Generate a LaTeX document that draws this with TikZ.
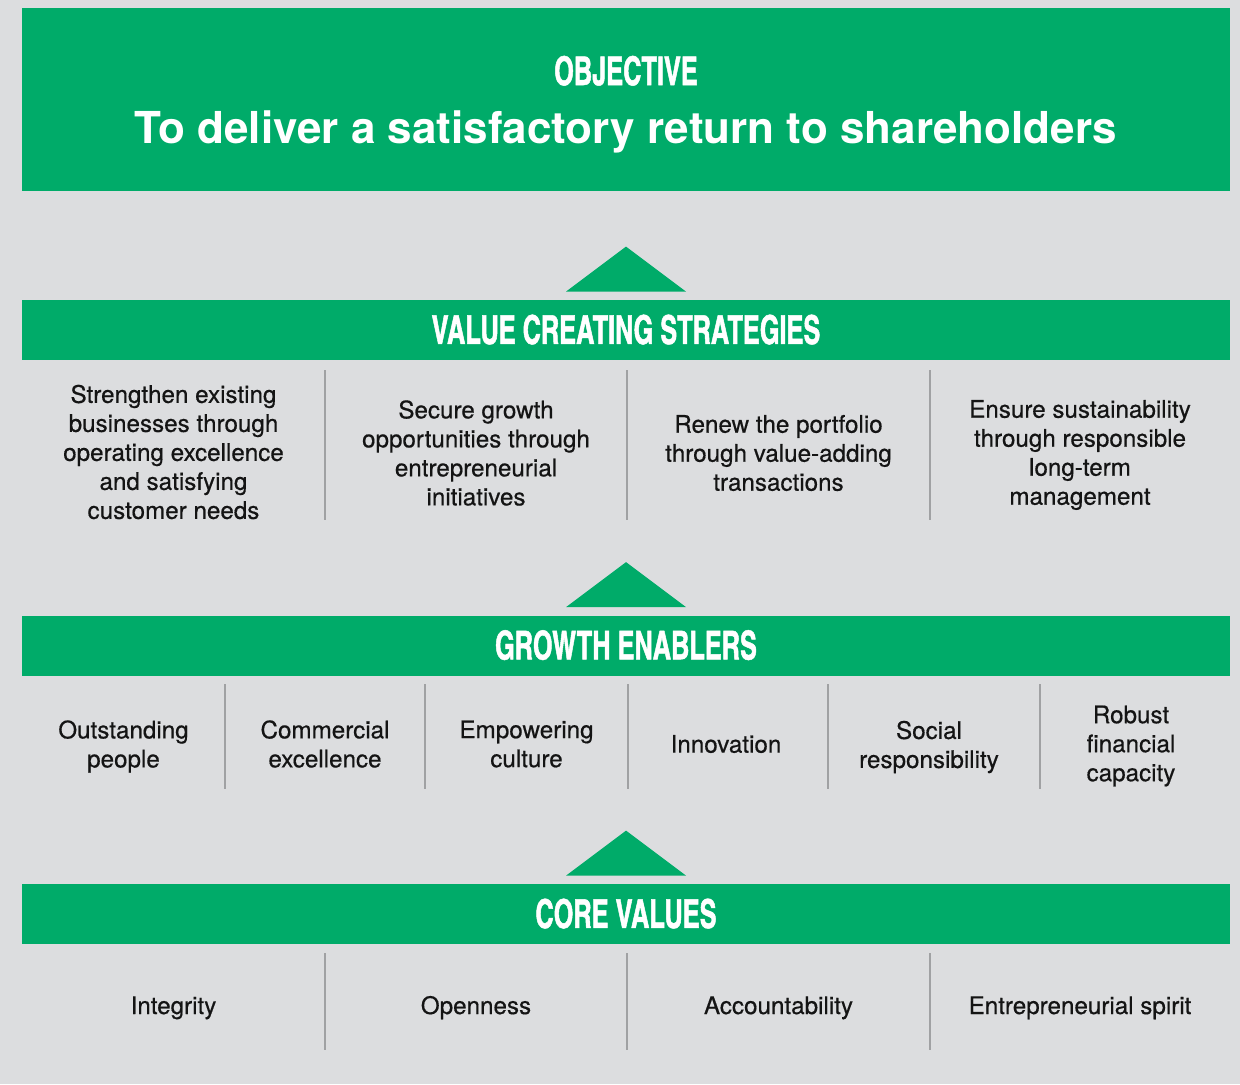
\documentclass[tikz,border=0pt]{standalone}
\usepackage{fontspec}
\setmainfont{TeX Gyre Heros}
\newfontfamily\headfont[FakeStretch=0.78, FakeBold=1.2]{texgyreheroscn-bold.otf}
\newfontfamily\itemfont[FakeBold=0.5]{TeX Gyre Heros}
\usetikzlibrary{positioning,calc}

\definecolor{bandgreen}{RGB}{0,171,105}
\definecolor{pagegray}{RGB}{220,221,223}
\definecolor{rulegray}{RGB}{160,161,163}
\definecolor{inktext}{RGB}{20,20,20}

\begin{document}
\begin{tikzpicture}[x=0.5pt, y=-0.5pt,
    band/.style={fill=bandgreen, minimum width=604pt, minimum height=30pt, inner sep=0pt,
      text=white, text height=13.8pt, text depth=0pt, font=\headfont\fontsize{19.8}{22}\selectfont},
    item/.style={text=inktext, align=center, inner sep=0pt, font=\itemfont\fontsize{12.1}{14.5}\selectfont},
    sep/.style={rulegray, line width=1pt},
    tri/.style={fill=bandgreen}]
  \fill[pagegray] (0,0) rectangle (1240,1084);

  % objective
  \node[fill=bandgreen, minimum width=604pt, minimum height=91.5pt, inner sep=0pt] (goal) at (626,99.5) {};
  \node[anchor=base, text=white, inner sep=0pt, font=\headfont\fontsize{19.8}{22}\selectfont] (goalhead) at (626,85) {OBJECTIVE};
  \node[anchor=base, text=white, inner sep=0pt, font=\bfseries\fontsize{22}{26}\selectfont] (goaltext) at (626,143)
    {To deliver a satisfactory return to shareholders};

  % value creating strategies
  \node[band] (strat) at (626,330) {VALUE CREATING STRATEGIES};
  \fill[tri] ($(strat.north)+(-60,-8)$) -- ($(strat.north)+(0,-53)$) -- ($(strat.north)+(60,-8)$) -- cycle;
  \node[item] (s1) at (173.5,452) {Strengthen existing\\businesses through\\operating excellence\\and satisfying\\customer needs};
  \node[item] (s2) at (476,453) {Secure growth\\opportunities through\\entrepreneurial\\initiatives};
  \node[item] (s3) at (778.5,453) {Renew the portfolio\\through value-adding\\transactions};
  \node[item] (s4) at (1080,455) {Ensure sustainability\\through responsible\\long-term\\management};
  \foreach \x in {325,627,930}
    \draw[sep] (\x,370) -- (\x,520);

  % growth enablers
  \node[band] (grow) at (626,645.5) {GROWTH ENABLERS};
  \fill[tri] ($(grow.north)+(-60,-8)$) -- ($(grow.north)+(0,-53)$) -- ($(grow.north)+(60,-8)$) -- cycle;
  \node[item] (g1) at (123.5,746.5) {Outstanding\\people};
  \node[item] (g2) at (325,744) {Commercial\\excellence};
  \node[item] (g3) at (526.5,744) {Empowering\\culture};
  \node[item] (g4) at (726,744) {Innovation};
  \node[item] (g5) at (929,747) {Social\\responsibility};
  \node[item] (g6) at (1131,746) {Robust\\financial\\capacity};
  \foreach \x in {225,425,628,828,1040}
    \draw[sep] (\x,684) -- (\x,789);

  % core values
  \node[band] (core) at (626,914) {CORE VALUES};
  \fill[tri] ($(core.north)+(-60,-8)$) -- ($(core.north)+(0,-53)$) -- ($(core.north)+(60,-8)$) -- cycle;
  \node[item, anchor=base] (c1) at (173.5,1014) {Integrity};
  \node[item, anchor=base] (c2) at (476,1014) {Openness};
  \node[item, anchor=base] (c3) at (778.5,1014) {Accountability};
  \node[item, anchor=base] (c4) at (1080,1014) {Entrepreneurial spirit};
  \foreach \x in {325,627,930}
    \draw[sep] (\x,953) -- (\x,1050);
\end{tikzpicture}
\end{document}
